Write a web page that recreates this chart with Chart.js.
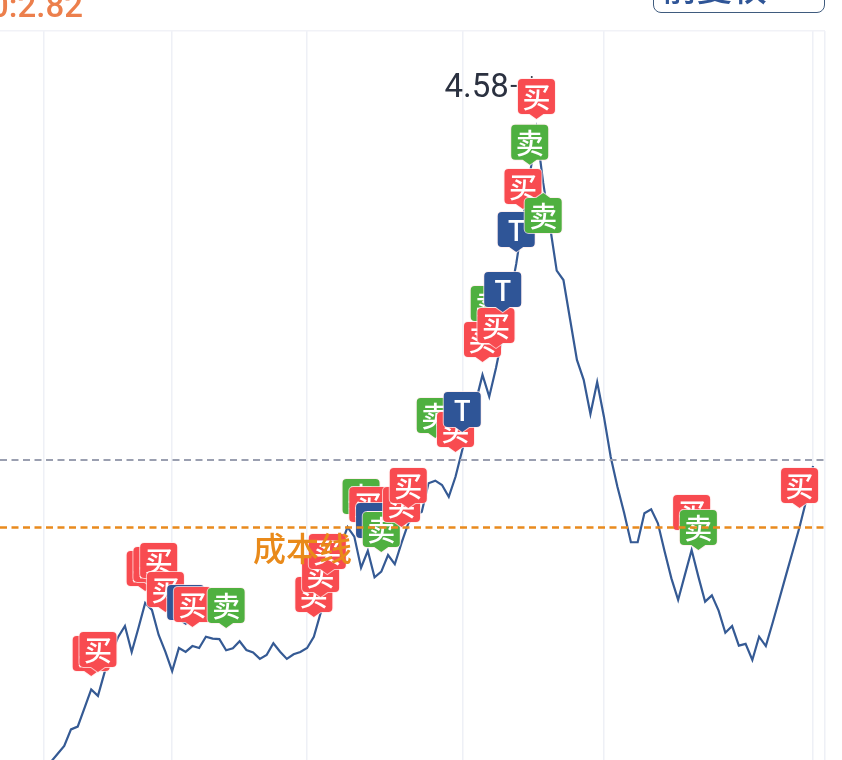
<!DOCTYPE html>
<html>
<head>
<meta charset="utf-8">
<script src="https://cdn.jsdelivr.net/npm/chart.js@4"></script>
<style>
html, body { margin: 0; padding: 0; background: #fff; overflow: hidden; }
#wrap { position: relative; width: 842px; height: 760px; overflow: hidden; }
#chartOne { position: absolute; left: 0; top: 0; }
#cost { position: absolute; left: -10px; top: -14px; font: 500 33px Roboto, sans-serif; color: #ec7f4c; }
#fq { position: absolute; left: 653px; top: -30px; width: 170px; height: 41px; border: 1.5px solid #3f5b7e; border-radius: 8px; }
#fq span { position: absolute; left: 8px; top: -11px; font: 500 35px "Noto Sans CJK SC", sans-serif; color: #2f5597; }
</style>
</head>
<body>
<div id="wrap">
<canvas id="chartOne" width="842" height="760"></canvas>
<div id="cost">0:2.82</div>
<div id="fq"><span>前复权</span></div>
</div>
<script>
// prices, one per trading day, starting at day 1
const prices = [1.432, 1.469, 1.506, 1.582, 1.595, 1.680, 1.766, 1.736, 1.846, 1.929,
    2.007, 2.057, 1.938, 2.048, 2.163, 2.131, 2.016, 1.938, 1.850, 1.956,
    1.938, 1.965, 1.956, 2.008, 1.999, 1.997, 1.946, 1.955, 1.987, 1.947,
    1.936, 1.906, 1.924, 1.978, 1.939, 1.906, 1.927, 1.938, 1.956, 2.008,
    2.116, 2.200, 2.315, 2.429, 2.512, 2.468, 2.325, 2.403, 2.281, 2.307,
    2.383, 2.341, 2.439, 2.529, 2.563, 2.582, 2.713, 2.725, 2.705, 2.651,
    2.743, 2.866, 2.981, 3.087, 3.211, 3.111, 3.243, 3.394, 3.555, 3.721,
    3.923, 4.125, 4.336, 4.093, 3.895, 3.690, 3.647, 3.463, 3.280, 3.188,
    3.031, 3.178, 3.019, 2.835, 2.697, 2.576, 2.442, 2.442, 2.575, 2.593,
    2.529, 2.399, 2.276, 2.177, 2.292, 2.406, 2.284, 2.169, 2.198, 2.128,
    2.026, 2.057, 1.967, 1.975, 1.901, 2.008, 1.965, 2.071, 2.181, 2.292,
    2.402, 2.512, 2.636, 2.792];

// month boundaries
const gridDays = [0, 19, 39, 62, 83, 114];

const currentPrice = 2.82;
const costPrice = 2.51;
const highPrice = 4.58;
const highDay = 72.3;

// trade flags, later ones sit on top
const flagType = ['买', '买', '买', '买', '买', '买', 'T', '买', '卖', '买', '买', '买',
    '卖', '买', 'T', '卖', '买', '买', '卖', '买', 'T', '卖', '买', '买',
    'T', 'T', '买', '卖', '卖', '买', '买', '卖', '买'];
const flagDay = [7, 8, 15, 16, 17, 18, 21, 22, 27, 40, 41, 42,
    47, 48, 49, 50, 53, 54, 58, 61, 62, 66, 65, 67,
    68, 70, 71, 72, 74, 73, 96, 97, 112];
const flagPrice = [1.827, 1.846, 2.218, 2.236, 2.255, 2.122, 2.062, 2.053, 2.048, 2.099, 2.190, 2.296,
    2.549, 2.512, 2.439, 2.397, 2.512, 2.599, 2.921, 2.857, 2.949, 3.436, 3.270, 3.335,
    3.500, 3.776, 3.973, 4.176, 4.047, 4.387, 2.475, 2.406, 2.599];
// the flag that hangs under its point instead of over it
const flagBelow = [74];

const flagColors = { '买': '#f84b50', '卖': '#4fb040', 'T': '#2f5597' };

const xMin = -6.52, xMax = 115.77;
const yMin = 1.4415, yMax = 4.791;

function drawFlag(ctx, x, y, type, below) {
    const w = 37, h = 35, tip = 5, r = 4, tail = 7;
    const top = below ? y + tip : y - tip - h;
    const left = x - w / 2;
    ctx.beginPath();
    ctx.moveTo(left + r, top);
    if (below) {
        ctx.lineTo(x - tail, top);
        ctx.lineTo(x, y);
        ctx.lineTo(x + tail, top);
    }
    ctx.arcTo(left + w, top, left + w, top + h, r);
    ctx.arcTo(left + w, top + h, left, top + h, r);
    if (!below) {
        ctx.lineTo(x + tail, top + h);
        ctx.lineTo(x, y);
        ctx.lineTo(x - tail, top + h);
    }
    ctx.arcTo(left, top + h, left, top, r);
    ctx.arcTo(left, top, left + w, top, r);
    ctx.closePath();
    ctx.fillStyle = flagColors[type];
    ctx.strokeStyle = 'rgba(255,235,235,0.75)';
    ctx.lineWidth = 2;
    ctx.stroke();
    ctx.fill();
    ctx.fillStyle = '#fff';
    ctx.font = '500 28px "Noto Sans CJK SC", sans-serif';
    ctx.textAlign = 'center';
    ctx.textBaseline = 'middle';
    ctx.fillText(type, x, top + h / 2 + 1);
}

const flagsPlugin = {
    id: 'flags',
    afterDatasetDraw(chart, args) {
        if (args.index !== 2) return;
        const ctx = chart.ctx;
        const points = chart.getDatasetMeta(3).data;
        ctx.save();
        points.forEach((p, i) => {
            drawFlag(ctx, p.x, p.y, flagType[i], flagBelow.includes(flagDay[i]));
        });
        ctx.restore();
    },
    afterDatasetsDraw(chart) {
        const ctx = chart.ctx;
        const sx = chart.scales.x, sy = chart.scales.y;
        ctx.save();
        // cost line caption
        ctx.fillStyle = '#e98a1a';
        ctx.font = '500 33px "Noto Sans CJK SC", sans-serif';
        ctx.textAlign = 'left';
        ctx.textBaseline = 'middle';
        ctx.fillText('成本线', 253, sy.getPixelForValue(costPrice) + 21);
        // high label
        const hx = sx.getPixelForValue(highDay);
        const hy = sy.getPixelForValue(highPrice);
        ctx.fillStyle = '#2b3140';
        ctx.font = '33px Roboto, sans-serif';
        ctx.textAlign = 'right';
        ctx.fillText(highPrice.toFixed(2), hx - 23, hy + 12);
        ctx.fillRect(hx - 21, hy + 8, 6, 2);
        ctx.restore();
    }
};

const ctx = document.getElementById('chartOne').getContext('2d');
const chartOne = new Chart(ctx, {
    type: 'line',
    data: {
        datasets: [{
            label: 'cost',
            data: [{ x: xMin, y: costPrice }, { x: xMax, y: costPrice }],
            borderColor: '#e98a1e',
            borderWidth: 2.5,
            borderDash: [7, 4.5],
            pointRadius: 0
        }, {
            label: 'now',
            data: [{ x: xMin, y: currentPrice }, { x: xMax, y: currentPrice }],
            borderColor: '#9a9fb0',
            borderWidth: 2.2,
            borderDash: [7, 4.5],
            pointRadius: 0
        }, {
            label: 'price',
            data: prices.map((v, i) => ({ x: i + 1, y: v })),
            borderColor: '#355a94',
            borderWidth: 2.2,
            tension: 0,
            pointRadius: 0
        }, {
            label: 'flags',
            data: flagDay.map((d, i) => ({ x: d, y: flagPrice[i] })),
            showLine: false,
            pointRadius: 0
        }, {
            label: 'high',
            data: [{ x: highDay, y: highPrice }],
            showLine: false,
            pointRadius: 1,
            pointBorderWidth: 0,
            pointBackgroundColor: '#2b3140'
        }]
    },
    options: {
        responsive: false,
        animation: false,
        layout: { autoPadding: false, padding: { top: 31, right: 17, left: 0, bottom: 0 } },
        plugins: { legend: { display: false }, tooltip: { enabled: false } },
        scales: {
            x: {
                type: 'linear',
                min: xMin,
                max: xMax,
                afterBuildTicks: axis => { axis.ticks = gridDays.concat(xMax).map(v => ({ value: v })); },
                grid: { color: '#eef0f6', lineWidth: 1.5, drawTicks: false },
                border: { display: false },
                ticks: { display: false }
            },
            y: {
                min: yMin,
                max: yMax,
                afterBuildTicks: axis => { axis.ticks = [{ value: yMax }]; },
                grid: { color: '#f1f2f7', lineWidth: 1.5, drawTicks: false },
                border: { display: false },
                ticks: { display: false }
            }
        }
    },
    plugins: [flagsPlugin]
});
</script>
</body>
</html>
